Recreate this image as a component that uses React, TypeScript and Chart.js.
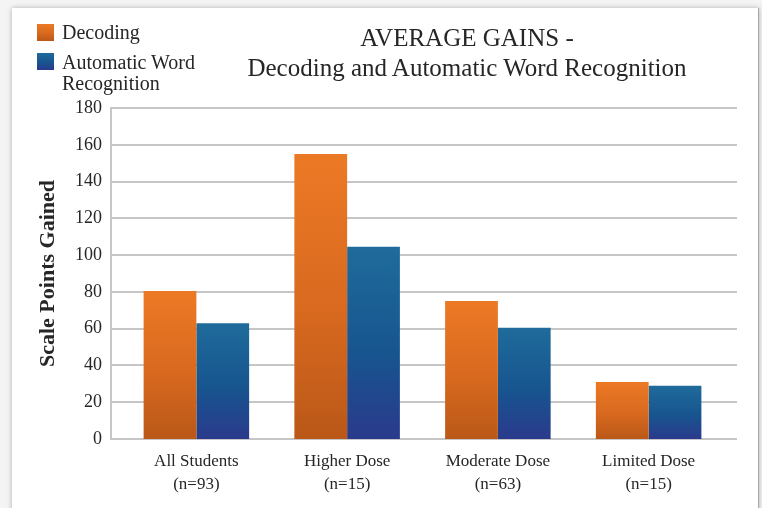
import React, { useEffect, useRef } from 'react';
import { Chart, registerables } from 'chart.js';

Chart.register(...registerables);

const categories: string[][] = [
  ['All Students', '(n=93)'],
  ['Higher Dose', '(n=15)'],
  ['Moderate Dose', '(n=63)'],
  ['Limited Dose', '(n=15)'],
];
const decoding = [80.5, 155, 75, 31];
const automaticWordRecognition = [63, 104.5, 60.5, 29];
const seriesNames = ['Decoding', 'Automatic Word Recognition'];
const titleLines = ['AVERAGE GAINS -', 'Decoding and Automatic Word Recognition'];
const yAxisTitle = 'Scale Points Gained';
const yMin = 0;
const yMax = 180;
const yStep = 20;

const FONT = "'Liberation Serif', 'Times New Roman', serif";
const TEXT = '#262626';
const ORANGE = ['#EC7925', '#D8691F', '#BA5818'];
const BLUE = ['#1F6B9B', '#17558F', '#2A3A8C'];

function barGradient(stops: string[]) {
  return (ctx: any) => {
    const chart = ctx.chart;
    const ys = chart.scales && chart.scales.y;
    if (!chart.chartArea || !ys || ctx.raw == null) return stops[1];
    const top = ys.getPixelForValue(ctx.raw);
    const bottom = ys.getPixelForValue(0);
    if (!isFinite(top) || !isFinite(bottom) || top === bottom) return stops[1];
    const g = chart.ctx.createLinearGradient(0, top, 0, bottom);
    g.addColorStop(0, stops[0]);
    g.addColorStop(0.55, stops[1]);
    g.addColorStop(1, stops[2]);
    return g;
  };
}

const gridPlugin = {
  id: 'extendedGrid',
  beforeDatasetsDraw(chart: any) {
    const { ctx, chartArea, scales } = chart;
    const ys = scales.y;
    const x0 = chartArea.left - 11;
    const x1 = chartArea.right + 13;
    ctx.save();
    ctx.strokeStyle = '#c6c6c6';
    ctx.lineWidth = 2;
    for (let v = yMin; v <= yMax; v += yStep) {
      const y = Math.round(ys.getPixelForValue(v));
      ctx.beginPath();
      ctx.moveTo(x0, y);
      ctx.lineTo(x1, y);
      ctx.stroke();
    }
    ctx.beginPath();
    ctx.moveTo(x0 + 1, Math.round(ys.getPixelForValue(yMax)) - 1);
    ctx.lineTo(x0 + 1, Math.round(ys.getPixelForValue(yMin)) + 1);
    ctx.stroke();
    ctx.restore();
  },
};

function swatch(stops: string[]): React.CSSProperties {
  return {
    position: 'absolute',
    width: 17,
    height: 17,
    background: `linear-gradient(to bottom, ${stops[0]}, ${stops[1]} 55%, ${stops[2]})`,
  };
}

export default function App() {
  const ref = useRef<HTMLCanvasElement | null>(null);

  useEffect(() => {
    if (!ref.current) return;
    const chart = new Chart(ref.current, {
      type: 'bar',
      data: {
        labels: categories,
        datasets: [
          {
            label: seriesNames[0],
            data: decoding,
            backgroundColor: barGradient(ORANGE),
            borderWidth: 0,
          },
          {
            label: seriesNames[1],
            data: automaticWordRecognition,
            backgroundColor: barGradient(BLUE),
            borderWidth: 0,
          },
        ],
      },
      options: {
        animation: false,
        responsive: false,
        maintainAspectRatio: false,
        events: [],
        layout: { padding: { top: 108, right: 38, bottom: 0, left: 0 } },
        datasets: { bar: { categoryPercentage: 0.7, barPercentage: 1 } },
        plugins: {
          legend: { display: false },
          title: { display: false },
          tooltip: { enabled: false },
        },
        scales: {
          x: {
            offset: true,
            grid: { display: false },
            border: { display: false },
            ticks: {
              color: TEXT,
              font: { family: FONT, size: 17, lineHeight: 1.35 },
              padding: 3,
              maxRotation: 0,
              autoSkip: false,
            },
            afterFit: (s: any) => {
              s.height = 69;
            },
          },
          y: {
            min: yMin,
            max: yMax,
            grid: { display: false },
            border: { display: false },
            ticks: {
              stepSize: yStep,
              color: TEXT,
              font: { family: FONT, size: 18 },
              padding: 11,
            },
            title: {
              display: true,
              text: yAxisTitle,
              color: TEXT,
              font: { family: FONT, size: 22, weight: 'bold', lineHeight: 1.2 },
              padding: { top: 35, bottom: 0 },
            },
            afterFit: (s: any) => {
              s.width = 121;
            },
          },
        },
      },
      plugins: [gridPlugin],
    });
    return () => chart.destroy();
  }, []);

  return (
    <div style={{ position: 'absolute', left: 0, top: 0, width: 762, height: 508, overflow: 'hidden', background: '#f4f4f4' }}>
      <div
        style={{
          position: 'absolute',
          left: 12,
          top: 8,
          width: 746,
          height: 520,
          background: '#ffffff',
          boxShadow: '0 0 5px rgba(0,0,0,0.28)',
          borderRight: '1px solid #a8a8a8',
        }}
      />
      <canvas ref={ref} width={762} height={508} style={{ position: 'absolute', left: 0, top: 0, width: 762, height: 508 }} />
      <div
        style={{
          position: 'absolute',
          left: 167,
          top: 23,
          width: 600,
          textAlign: 'center',
          fontFamily: FONT,
          fontSize: 25,
          lineHeight: '30px',
          color: TEXT,
          whiteSpace: 'nowrap',
        }}
      >
        <div>{titleLines[0]}</div>
        <div>{titleLines[1]}</div>
      </div>
      <div style={{ ...swatch(ORANGE), left: 37, top: 24 }} />
      <div style={{ ...swatch(BLUE), left: 37, top: 53 }} />
      <div
        style={{
          position: 'absolute',
          left: 62,
          top: 22,
          fontFamily: FONT,
          fontSize: 20,
          lineHeight: '21px',
          color: TEXT,
          whiteSpace: 'nowrap',
        }}
      >
        {seriesNames[0]}
      </div>
      <div
        style={{
          position: 'absolute',
          left: 62,
          top: 52,
          width: 150,
          fontFamily: FONT,
          fontSize: 20,
          lineHeight: '21px',
          color: TEXT,
        }}
      >
        {seriesNames[1]}
      </div>
    </div>
  );
}
